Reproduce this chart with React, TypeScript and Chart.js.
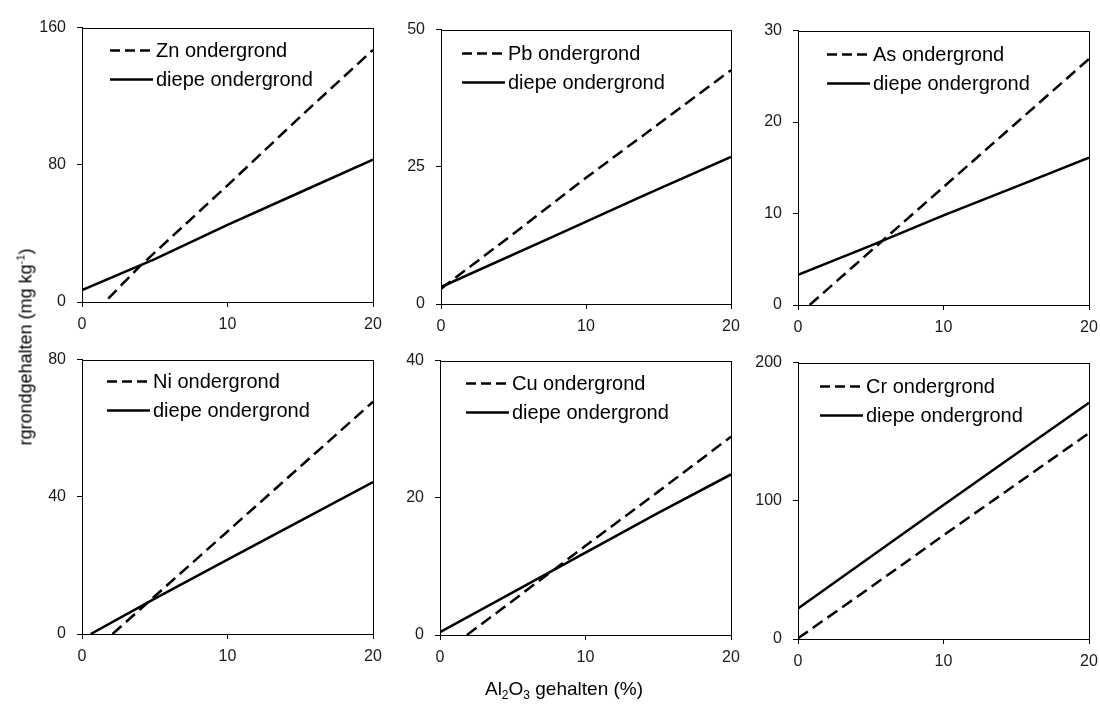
import React, { useEffect, useRef } from "react";
import { Chart, registerables } from "chart.js";

Chart.register(...registerables);

// ---- data (Al2O3 % vs. content mg/kg) ----
const metals = ["Zn", "Pb", "As", "Ni", "Cu", "Cr"];
const yMax = [160, 50, 30, 80, 40, 200];
const yStep = [80, 25, 10, 40, 20, 100];
const xTickValues = [0, 10, 20];

const znOndergrond = [[1.8, 2], [4, 21], [10, 68], [15, 108], [20, 147]];
const znDiepe = [[0, 7], [5, 25], [10, 45], [15, 64], [20, 83]];
const pbOndergrond = [[0, 2.8], [5, 12.8], [10, 23], [15, 32.8], [20, 42.6]];
const pbDiepe = [[0, 3.1], [8, 12.6], [14, 19.8], [20, 26.8]];
const asOndergrond = [[0.8, 0], [5, 5.9], [10, 12.9], [15, 19.9], [20, 26.9]];
const asDiepe = [[0, 3.3], [5, 6.5], [10, 9.8], [15, 12.95], [20, 16.1]];
const niOndergrond = [[2.1, 0], [5, 11], [10, 29.9], [15, 48.8], [20, 67.7]];
const niDiepe = [[0.6, 0], [5, 10.3], [10, 21.7], [15, 33], [20, 44.3]];
const cuOndergrond = [[1.85, 0], [5, 5], [10, 13], [15, 20.9], [20, 28.9]];
const cuDiepe = [[0, 0.4], [5, 6.2], [10, 12], [15, 17.8], [20, 23.4]];
const crOndergrond = [[0, 0.5], [5, 37.5], [10, 75], [15, 112], [20, 149]];
const crDiepe = [[0, 22], [5, 59.5], [10, 97], [15, 134], [20, 171]];

const ondergrondSeries = [znOndergrond, pbOndergrond, asOndergrond, niOndergrond, cuOndergrond, crOndergrond];
const diepeSeries = [znDiepe, pbDiepe, asDiepe, niDiepe, cuDiepe, crDiepe];
const diepeLabel = "diepe ondergrond";

// ---- layout (plot-area rectangles in page pixels) ----
const PANELS = [
  { l: 82, t: 22, r: 373, b: 302, ldx: 28, ldy: 23 },
  { l: 441, t: 24, r: 731, b: 304, ldx: 21, ldy: 24 },
  { l: 798, t: 25, r: 1089, b: 305, ldx: 29, ldy: 24 },
  { l: 82, t: 354, r: 373, b: 634, ldx: 25, ldy: 22 },
  { l: 440, t: 355, r: 731, b: 635, ldx: 26, ldy: 23 },
  { l: 798, t: 357, r: 1089, b: 639, ldx: 22, ldy: 24 },
];
const PAD_L = 60;
const PAD_T = 15;
const PAD_R = 20;
const PAD_B = 35;
const FONT = "'Liberation Sans', Arial, sans-serif";
const DASH = [12, 6];
const LEGEND_DASH = [10, 5];

function Panel({ idx }: { idx: number }) {
  const ref = useRef<HTMLCanvasElement | null>(null);
  const p = PANELS[idx];
  const w = p.r - p.l + PAD_L + PAD_R;
  const h = p.b - p.t + PAD_T + PAD_B;

  useEffect(() => {
    if (!ref.current) return;
    const toPts = (arr: number[][]) => arr.map(([x, y]) => ({ x, y }));

    const framePlugin = {
      id: "frameAndLegend",
      afterDraw(chart: any) {
        const { ctx, chartArea } = chart;
        ctx.save();
        ctx.strokeStyle = "#000";
        ctx.lineWidth = 1;
        ctx.setLineDash([]);
        ctx.strokeRect(
          Math.round(chartArea.left) + 0.5,
          Math.round(chartArea.top) + 0.5,
          Math.round(chartArea.right - chartArea.left),
          Math.round(chartArea.bottom - chartArea.top)
        );
        // legend inside plot area
        const x0 = chartArea.left + p.ldx;
        chart.data.datasets.forEach((ds: any, i: number) => {
          const y = chartArea.top + p.ldy + i * 29;
          ctx.beginPath();
          ctx.lineWidth = 2.5;
          ctx.strokeStyle = "#000";
          ctx.setLineDash(ds.borderDash ? LEGEND_DASH : []);
          ctx.moveTo(x0, y);
          ctx.lineTo(x0 + 43, y);
          ctx.stroke();
          ctx.setLineDash([]);
          ctx.fillStyle = "#000";
          ctx.font = `20px ${FONT}`;
          ctx.textBaseline = "middle";
          ctx.textAlign = "left";
          ctx.fillText(ds.label, x0 + 46, y + 1);
        });
        ctx.restore();
      },
    };

    const tickFont = { family: FONT, size: 16 };
    const chart = new Chart(ref.current, {
      type: "line",
      data: {
        datasets: [
          {
            label: `${metals[idx]} ondergrond`,
            data: toPts(ondergrondSeries[idx]),
            borderColor: "#000",
            borderWidth: 2.5,
            borderDash: DASH,
            pointRadius: 0,
            fill: false,
            tension: 0,
          },
          {
            label: diepeLabel,
            data: toPts(diepeSeries[idx]),
            borderColor: "#000",
            borderWidth: 2.5,
            pointRadius: 0,
            fill: false,
            tension: 0,
          },
        ],
      },
      options: {
        animation: false,
        responsive: false,
        devicePixelRatio: 1,
        layout: { padding: { left: 0, top: PAD_T, right: PAD_R, bottom: 0 } },
        plugins: { legend: { display: false }, tooltip: { enabled: false } },
        scales: {
          x: {
            type: "linear",
            min: 0,
            max: 20,
            afterBuildTicks: (s: any) => {
              s.ticks = xTickValues.map((v) => ({ value: v }));
            },
            afterFit: (s: any) => {
              s.height = PAD_B;
            },
            grid: { display: true, drawOnChartArea: false, drawTicks: true, tickLength: 5, color: "#000" },
            border: { display: true, color: "#000", width: 1 },
            ticks: { font: tickFont, color: "#1a1a1a", padding: 8, maxRotation: 0, autoSkip: false },
          },
          y: {
            type: "linear",
            min: 0,
            max: yMax[idx],
            ticks: { stepSize: yStep[idx], font: tickFont, color: "#1a1a1a", padding: 11 },
            afterFit: (s: any) => {
              s.width = PAD_L;
            },
            grid: { display: true, drawOnChartArea: false, drawTicks: true, tickLength: 5, color: "#000" },
            border: { display: true, color: "#000", width: 1 },
          },
        },
      },
      plugins: [framePlugin],
    } as any);
    return () => chart.destroy();
  }, [idx]);

  return (
    <canvas
      ref={ref}
      width={w}
      height={h}
      style={{ position: "absolute", left: p.l - PAD_L, top: p.t - PAD_T, width: w, height: h }}
    />
  );
}

export default function App() {
  return (
    <div
      style={{
        position: "absolute",
        left: 0,
        top: 0,
        width: 1100,
        height: 707,
        background: "#fff",
        overflow: "hidden",
        fontFamily: FONT,
        color: "#000",
      }}
    >
      {metals.map((_, i) => (
        <Panel key={i} idx={i} />
      ))}
      <div
        style={{
          position: "absolute",
          left: 23,
          top: 347,
          transform: "translate(-50%, -50%) rotate(-90deg)",
          whiteSpace: "nowrap",
          fontSize: 18,
          lineHeight: "20px",
        }}
      >
        rgrondgehalten (mg kg<sup style={{ fontSize: 11 }}>-1</sup>)
      </div>
      <div
        style={{
          position: "absolute",
          left: 564,
          top: 692,
          transform: "translate(-50%, -50%)",
          whiteSpace: "nowrap",
          fontSize: 19,
          lineHeight: "22px",
        }}
      >
        Al<sub style={{ fontSize: 12 }}>2</sub>O<sub style={{ fontSize: 12 }}>3</sub> gehalten (%)
      </div>
    </div>
  );
}
